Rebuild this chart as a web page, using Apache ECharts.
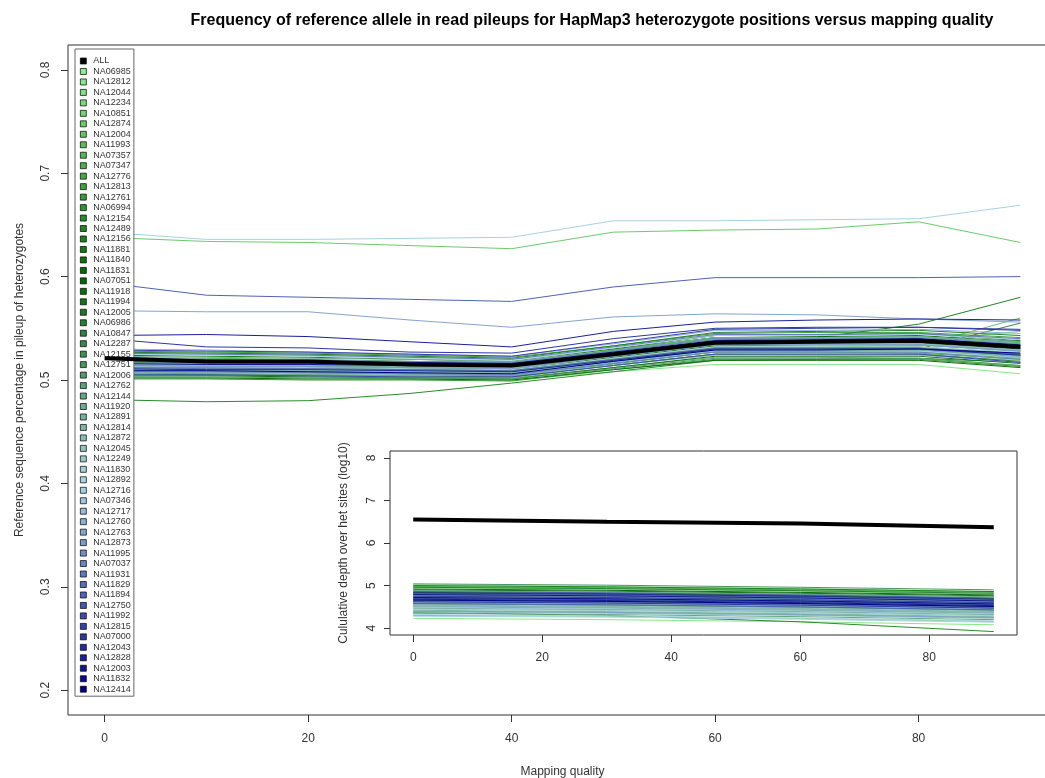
<!DOCTYPE html>
<html>
<head>
<meta charset="utf-8">
<script src="https://cdn.jsdelivr.net/npm/echarts@6/dist/echarts.min.js"></script>
<style>html,body{margin:0;padding:0;background:#fff}#c{width:1045px;height:778px}</style>
</head>
<body>
<div id="c"></div>
<script>
// ---------- data ----------
const mainX = [0, 10, 20, 30, 40, 50, 60, 70, 80, 90];
const insetX = [0, 30, 60, 90];
const xTicks = [0, 20, 40, 60, 80];
const mainYTicks = [0.2, 0.3, 0.4, 0.5, 0.6, 0.7, 0.8];
const insetYTicks = [4, 5, 6, 7, 8];

const sampleNames = ["NA06985","NA12812","NA12044","NA12234","NA10851","NA12874","NA12004","NA11993","NA07357","NA07347",
"NA12776","NA12813","NA12761","NA06994","NA12154","NA12489","NA12156","NA11881","NA11840","NA11831",
"NA07051","NA11918","NA11994","NA12005","NA06986","NA10847","NA12287","NA12155","NA12751","NA12006",
"NA12762","NA12144","NA11920","NA12891","NA12814","NA12872","NA12045","NA12249","NA11830","NA12892",
"NA12716","NA07346","NA12717","NA12760","NA12763","NA12873","NA11995","NA07037","NA11931","NA11829",
"NA11894","NA12750","NA11992","NA12815","NA07000","NA12043","NA12828","NA12003","NA11832","NA12414"];

const allMain = [0.521,0.518,0.518,0.515,0.514,0.525,0.536,0.537,0.538,0.532];
const allInset = [6.55,6.50,6.46,6.37];

const sampleMain = [
[0.512,0.511,0.510,0.509,0.508,0.518,0.528,0.528,0.529,0.524],
[0.503,0.502,0.502,0.501,0.500,0.508,0.515,0.515,0.515,0.506],
[0.526,0.525,0.524,0.522,0.520,0.530,0.541,0.541,0.542,0.535],
[0.508,0.507,0.507,0.506,0.505,0.515,0.525,0.524,0.524,0.519],
[0.519,0.518,0.517,0.516,0.515,0.526,0.537,0.538,0.538,0.547],
[0.638,0.634,0.633,0.630,0.627,0.643,0.645,0.646,0.653,0.633],
[0.515,0.514,0.513,0.512,0.510,0.521,0.532,0.532,0.533,0.560],
[0.505,0.505,0.504,0.503,0.502,0.512,0.522,0.522,0.521,0.514],
[0.522,0.521,0.520,0.518,0.516,0.528,0.540,0.541,0.542,0.536],
[0.510,0.509,0.508,0.507,0.506,0.516,0.527,0.527,0.526,0.520],
[0.517,0.516,0.515,0.514,0.513,0.523,0.534,0.535,0.535,0.529],
[0.528,0.527,0.526,0.524,0.522,0.533,0.545,0.546,0.546,0.541],
[0.501,0.501,0.500,0.500,0.499,0.510,0.520,0.520,0.520,0.513],
[0.513,0.512,0.511,0.510,0.509,0.520,0.531,0.531,0.531,0.525],
[0.481,0.479,0.480,0.487,0.497,0.508,0.519,0.520,0.521,0.517],
[0.518,0.517,0.516,0.515,0.514,0.526,0.538,0.541,0.554,0.580],
[0.507,0.506,0.505,0.505,0.504,0.516,0.528,0.528,0.529,0.522],
[0.524,0.523,0.522,0.520,0.518,0.530,0.543,0.544,0.545,0.538],
[0.502,0.502,0.501,0.501,0.500,0.510,0.519,0.519,0.519,0.512],
[0.516,0.515,0.514,0.513,0.512,0.523,0.535,0.536,0.536,0.530],
[0.509,0.508,0.508,0.507,0.506,0.518,0.530,0.530,0.531,0.524],
[0.520,0.519,0.518,0.517,0.516,0.529,0.541,0.542,0.543,0.537],
[0.504,0.504,0.503,0.502,0.501,0.512,0.523,0.523,0.523,0.516],
[0.514,0.513,0.512,0.511,0.510,0.522,0.533,0.534,0.534,0.528],
[0.527,0.526,0.525,0.523,0.521,0.533,0.546,0.547,0.548,0.543],
[0.506,0.505,0.505,0.504,0.503,0.514,0.525,0.525,0.525,0.518],
[0.511,0.510,0.510,0.509,0.508,0.519,0.530,0.530,0.530,0.555],
[0.521,0.520,0.519,0.518,0.517,0.528,0.539,0.540,0.540,0.534],
[0.508,0.507,0.506,0.506,0.505,0.517,0.529,0.529,0.529,0.523],
[0.503,0.503,0.502,0.502,0.501,0.511,0.521,0.521,0.521,0.514],
[0.517,0.516,0.516,0.515,0.514,0.525,0.536,0.537,0.537,0.531],
[0.512,0.512,0.511,0.510,0.509,0.520,0.531,0.531,0.532,0.526],
[0.506,0.506,0.505,0.504,0.504,0.516,0.527,0.527,0.527,0.521],
[0.523,0.522,0.521,0.520,0.518,0.529,0.541,0.541,0.542,0.537],
[0.510,0.509,0.509,0.508,0.507,0.518,0.529,0.529,0.529,0.523],
[0.515,0.514,0.514,0.513,0.512,0.523,0.534,0.534,0.534,0.528],
[0.507,0.507,0.506,0.505,0.505,0.514,0.524,0.524,0.524,0.517],
[0.519,0.518,0.518,0.517,0.516,0.527,0.538,0.539,0.539,0.533],
[0.513,0.513,0.512,0.511,0.510,0.521,0.532,0.532,0.532,0.527],
[0.525,0.524,0.523,0.521,0.519,0.531,0.543,0.543,0.544,0.539],
[0.643,0.636,0.636,0.637,0.638,0.654,0.654,0.655,0.656,0.669],
[0.509,0.508,0.508,0.507,0.506,0.517,0.528,0.528,0.528,0.522],
[0.516,0.515,0.515,0.514,0.513,0.524,0.535,0.535,0.535,0.529],
[0.530,0.529,0.527,0.525,0.523,0.535,0.548,0.548,0.549,0.545],
[0.567,0.566,0.566,0.558,0.551,0.561,0.564,0.563,0.559,0.556],
[0.514,0.513,0.513,0.512,0.511,0.523,0.534,0.534,0.534,0.528],
[0.521,0.520,0.519,0.518,0.517,0.528,0.540,0.540,0.541,0.535],
[0.508,0.508,0.507,0.506,0.505,0.516,0.527,0.527,0.527,0.520],
[0.526,0.525,0.524,0.522,0.520,0.532,0.544,0.544,0.545,0.540],
[0.512,0.511,0.511,0.510,0.509,0.520,0.531,0.531,0.531,0.525],
[0.594,0.582,0.580,0.578,0.576,0.590,0.599,0.599,0.599,0.600],
[0.518,0.517,0.516,0.515,0.514,0.526,0.538,0.538,0.539,0.533],
[0.505,0.505,0.504,0.503,0.503,0.514,0.525,0.525,0.525,0.517],
[0.529,0.528,0.527,0.525,0.523,0.536,0.549,0.550,0.551,0.549],
[0.540,0.532,0.531,0.527,0.526,0.540,0.550,0.551,0.551,0.548],
[0.511,0.510,0.510,0.509,0.508,0.519,0.530,0.530,0.530,0.524],
[0.543,0.544,0.542,0.537,0.532,0.547,0.556,0.558,0.559,0.558],
[0.516,0.515,0.515,0.514,0.513,0.525,0.537,0.537,0.537,0.531],
[0.520,0.519,0.518,0.517,0.516,0.527,0.538,0.539,0.540,0.534],
[0.509,0.509,0.508,0.507,0.506,0.518,0.529,0.529,0.530,0.526]
];

const sampleInset = [
[5.02,4.98,4.93,4.86],[4.23,4.20,4.15,4.08],[4.88,4.85,4.80,4.74],[4.45,4.42,4.37,4.30],[4.95,4.92,4.87,4.80],
[4.30,4.28,4.23,4.16],[4.57,4.54,4.49,4.42],[4.62,4.59,4.54,4.47],[4.98,4.95,4.90,4.84],[4.70,4.67,4.62,4.55],
[4.52,4.49,4.44,4.37],[4.80,4.77,4.72,4.65],[4.40,4.37,4.32,4.25],[4.85,4.82,4.77,4.70],[4.37,4.30,4.15,3.92],
[4.60,4.57,4.52,4.45],[5.00,4.97,4.92,4.86],[4.75,4.72,4.67,4.60],[4.92,4.89,4.84,4.78],[4.84,4.81,4.76,4.69],
[4.66,4.63,4.58,4.51],[4.90,4.87,4.82,4.76],[4.72,4.69,4.64,4.57],[4.55,4.52,4.47,4.40],[4.96,4.93,4.88,4.82],
[4.65,4.62,4.57,4.50],[4.82,4.79,4.74,4.68],[4.47,4.44,4.39,4.32],[5.04,5.01,4.96,4.90],[4.58,4.55,4.50,4.43],
[4.77,4.74,4.69,4.62],[4.35,4.32,4.27,4.20],[4.88,4.85,4.80,4.74],[4.50,4.47,4.42,4.35],[4.42,4.39,4.34,4.27],
[4.62,4.59,4.54,4.47],[4.38,4.35,4.30,4.23],[4.55,4.52,4.47,4.40],[4.45,4.42,4.37,4.30],[4.32,4.29,4.24,4.17],
[4.28,4.26,4.21,4.14],[4.48,4.45,4.40,4.33],[4.60,4.57,4.52,4.45],[4.52,4.49,4.44,4.37],[4.40,4.37,4.32,4.25],
[4.68,4.65,4.60,4.53],[4.73,4.70,4.65,4.58],[4.78,4.75,4.70,4.63],[4.64,4.61,4.56,4.49],[4.81,4.78,4.73,4.66],
[4.58,4.55,4.50,4.43],[4.86,4.83,4.78,4.71],[4.70,4.67,4.62,4.55],[4.75,4.72,4.67,4.60],[4.62,4.59,4.54,4.47],
[4.83,4.80,4.75,4.68],[4.68,4.65,4.60,4.53],[4.79,4.76,4.71,4.64],[4.72,4.69,4.64,4.57],[4.66,4.63,4.58,4.51]
];

// ---------- style ----------
const rampStops = [[144,238,144],[0,100,0],[173,216,230],[0,0,139]];
function rampColor(i, n) {
  const t = i / (n - 1) * (rampStops.length - 1);
  let k = Math.floor(t); if (k >= rampStops.length - 1) k = rampStops.length - 2;
  const f = t - k, a = rampStops[k], b = rampStops[k + 1];
  const c = a.map((v, j) => Math.round(v + (b[j] - v) * f));
  return 'rgb(' + c.join(',') + ')';
}
const colors = sampleNames.map((_, i) => rampColor(i, sampleNames.length));
const FONT = '"Liberation Sans", Arial, sans-serif';
const TXT = '#333';
const SQUARE = 'path://M0,0L10,0L10,10L0,10Z';

const series = [];
sampleNames.forEach((name, i) => {
  series.push({
    name, type: 'line', xAxisIndex: 0, yAxisIndex: 0, showSymbol: false, silent: true,
    color: colors[i], lineStyle: { width: 1, color: colors[i] },
    data: mainX.map((x, j) => [x, sampleMain[i][j]])
  });
  series.push({
    name, type: 'line', xAxisIndex: 1, yAxisIndex: 1, showSymbol: false, silent: true,
    color: colors[i], lineStyle: { width: 1, color: colors[i] },
    data: insetX.map((x, j) => [x, sampleInset[i][j]])
  });
});
series.push({
  name: 'ALL', type: 'line', xAxisIndex: 0, yAxisIndex: 0, showSymbol: false, silent: true,
  color: '#000', lineStyle: { width: 4, color: '#000' }, z: 5,
  data: mainX.map((x, j) => [x, allMain[j]])
});
series.push({
  name: 'ALL', type: 'line', xAxisIndex: 1, yAxisIndex: 1, showSymbol: false, silent: true,
  color: '#000', lineStyle: { width: 4, color: '#000' }, z: 5,
  data: insetX.map((x, j) => [x, allInset[j]])
});

const legendNames = ['ALL'].concat(sampleNames);
const legendColors = ['#000'].concat(colors);

function xAxisCfg(gridIndex, name, gap, margin) {
  return {
    type: 'value', gridIndex, min: -3.6, max: 93.6,
    axisLine: { show: false, onZero: false },
    splitLine: { show: false },
    axisTick: { show: true, length: 7, customValues: xTicks, lineStyle: { color: TXT } },
    axisLabel: { customValues: xTicks, color: TXT, fontFamily: FONT, fontSize: 12, margin },
    name, nameLocation: 'middle', nameGap: gap,
    nameTextStyle: { color: TXT, fontFamily: FONT, fontSize: 12 }
  };
}

const option = {
  animation: false,
  backgroundColor: '#fff',
  title: {
    text: 'Frequency of reference allele in read pileups for HapMap3 heterozygote positions versus mapping quality',
    left: 587, top: 8, textAlign: 'center',
    textStyle: { fontFamily: FONT, fontSize: 16, fontWeight: 'bold', color: '#000' }
  },
  legend: {
    orient: 'vertical', left: 75, top: 49,
    data: legendNames.map((n, i) => ({ name: n, icon: SQUARE, itemStyle: { color: legendColors[i], borderColor: '#000', borderWidth: 0.7 } })),
    itemWidth: 10, itemHeight: 6, itemGap: 0.47, symbolKeepAspect: true,
    selectedMode: false,
    backgroundColor: '#fff', borderColor: '#666', borderWidth: 1,
    padding: [7, 3, 2, 5],
    textStyle: { fontFamily: FONT, fontSize: 9, color: TXT, lineHeight: 10 }
  },
  grid: [
    { left: 68, top: 45, width: 989, height: 670, outerBoundsMode: 'none', containLabel: false,
      show: true, borderColor: '#333', borderWidth: 1, backgroundColor: 'transparent' },
    { left: 390, top: 451, width: 627, height: 184, outerBoundsMode: 'none', containLabel: false,
      show: true, borderColor: '#333', borderWidth: 1, backgroundColor: '#fff' }
  ],
  xAxis: [xAxisCfg(0, 'Mapping quality', 51, 18), xAxisCfg(1, '', 20, 17)],
  yAxis: [
    {
      type: 'value', gridIndex: 0, min: 0.176, max: 0.824,
      axisLine: { show: false, onZero: false }, splitLine: { show: false },
      axisTick: { show: true, length: 7, customValues: mainYTicks, lineStyle: { color: TXT } },
      axisLabel: { customValues: mainYTicks, rotate: 90, color: TXT, fontFamily: FONT, fontSize: 12, margin: 16, formatter: v => v.toFixed(1) },
      name: 'Reference sequence percentage in pileup of heterozygotes', nameLocation: 'middle', nameGap: 42,
      nameTextStyle: { color: TXT, fontFamily: FONT, fontSize: 12 }
    },
    {
      type: 'value', gridIndex: 1, min: 3.84, max: 8.16,
      axisLine: { show: false, onZero: false }, splitLine: { show: false },
      axisTick: { show: true, length: 6, customValues: insetYTicks, lineStyle: { color: TXT } },
      axisLabel: { customValues: insetYTicks, rotate: 90, color: TXT, fontFamily: FONT, fontSize: 12, margin: 12, formatter: v => String(v) },
      name: 'Cululative depth over het sites (log10)', nameLocation: 'middle', nameGap: 40,
      nameTextStyle: { color: TXT, fontFamily: FONT, fontSize: 12 }
    }
  ],
  series
};

const chart = echarts.init(document.getElementById('c'), null, { renderer: 'canvas' });
chart.setOption(option);
</script>
</body>
</html>
